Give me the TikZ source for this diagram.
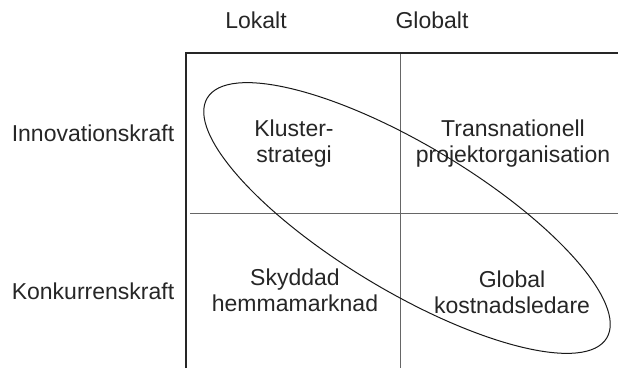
\documentclass[tikz,border=0pt]{standalone}
\usepackage{fontspec}
\setmainfont{Liberation Sans}
\begin{document}
\begin{tikzpicture}[x=1pt, y=-1pt,
    lbl/.style={font=\fontsize{23}{26}\selectfont, text=black!85, align=center, inner sep=0pt},
    axisline/.style={line width=2pt, black!85},
    gridline/.style={line width=1pt, black!60},
    loop/.style={line width=1pt, black!90}]
  \useasboundingbox (0,0) rectangle (618,369);
    % axes
    \coordinate (corner) at (186,53);
    \coordinate (topend) at (618,53);
    \coordinate (leftend) at (186,368);
    \draw[axisline] (leftend) -- (corner) -- (topend);
    % quadrant lines
    \coordinate (midtop) at (400,54);
    \coordinate (midbot) at (400,368);
    \coordinate (midleft) at (190,213);
    \coordinate (midright) at (618,213);
    \draw[gridline] (midtop) -- (midbot);
    \draw[gridline] (midleft) -- (midright);
    % column labels
    \foreach \a/\x [count=\n] in {Lokalt/256,Globalt/432} {
      \node[lbl] (col\n) at (\x,20) {\a};
    }
    % row labels
    \foreach \a/\y [count=\i] in {Innovationskraft/133.5,Konkurrenskraft/291.5} {
      \node[lbl] (row\i) at (93,\y) {\a};
    }
    % quadrant texts
    \node[lbl] (kluster) at (294,144) {Kluster-\\strategi};
    \node[lbl] (transnat) at (513,144) {Transnationell\\projektorganisation};
    \node[lbl] (skyddad) at (295,290) {Skyddad\\hemmamarknad};
    \node[lbl] (global) at (512,292) {Global\\kostnadsledare};
    % ellipse
    \coordinate (mid) at (407,218);
    \draw[loop, rotate around={-31:(mid)}] (mid) ellipse [x radius=233, y radius=73];
  \end{tikzpicture}
\end{document}
